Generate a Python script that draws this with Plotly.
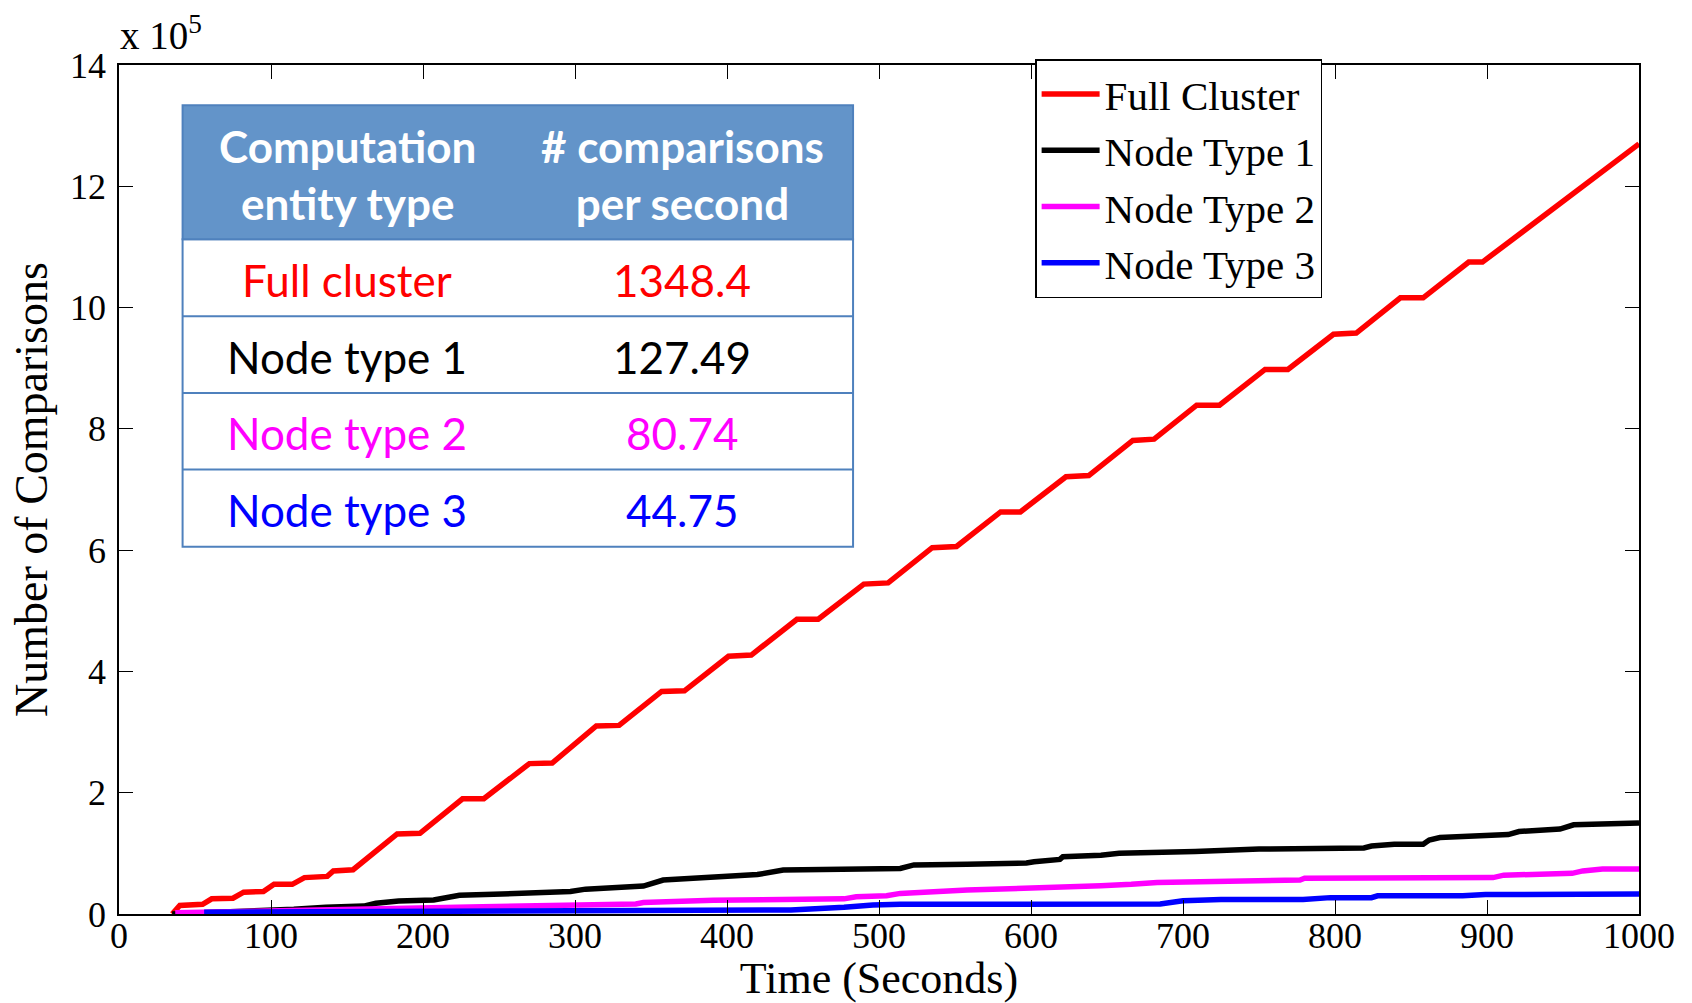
import plotly.graph_objects as go

# ---------------- data (y values in units of 10^5 comparisons) ----------------
series_names = ["Full Cluster", "Node Type 1", "Node Type 2", "Node Type 3"]
series_colors = ["#FF0000", "#000000", "#FF00FF", "#0000FF"]

full_x = [35, 40, 55, 61, 75, 82, 95, 102, 114, 122, 137, 141, 154, 183, 198, 226, 240, 270, 285,
          314, 329, 357, 372, 401, 416, 446, 460, 490, 506, 535, 551, 580, 593, 623, 638, 667, 681,
          709, 724, 754, 769, 799, 814, 843, 858, 888, 897, 1000]
full_y = [0.0, 0.14, 0.16, 0.25, 0.26, 0.36, 0.37, 0.49, 0.49, 0.60, 0.62, 0.71, 0.73, 1.32, 1.33,
          1.90, 1.90, 2.48, 2.49, 3.10, 3.11, 3.67, 3.68, 4.25, 4.27, 4.86, 4.86, 5.44, 5.46, 6.04,
          6.06, 6.63, 6.63, 7.21, 7.23, 7.81, 7.83, 8.39, 8.39, 8.98, 8.98, 9.56, 9.58, 10.16, 10.16,
          10.75, 10.75, 12.70]

node1_x = [35, 100, 115, 136, 161, 169, 184, 207, 224, 252, 297, 307, 345, 358, 382, 420, 437, 514,
           523, 536, 558, 597, 602, 619, 621, 646, 658, 708, 750, 819, 824, 839, 858, 862, 869, 914,
           921, 948, 957, 1000]
node1_y = [0.0, 0.05, 0.077, 0.11, 0.13, 0.176, 0.214, 0.23, 0.31, 0.33, 0.37, 0.41, 0.46, 0.56,
           0.59, 0.65, 0.725, 0.75, 0.81, 0.82, 0.82, 0.84, 0.86, 0.90, 0.945, 0.97, 1.00, 1.03,
           1.07, 1.09, 1.12, 1.15, 1.15, 1.22, 1.26, 1.31, 1.36, 1.40, 1.47, 1.50]

node2_x = [37, 114, 239, 340, 345, 360, 391, 477, 485, 505, 514, 558, 602, 646, 666, 683, 777, 780,
           904, 911, 956, 963, 976, 1000]
node2_y = [0.02, 0.05, 0.12, 0.165, 0.19, 0.20, 0.225, 0.25, 0.285, 0.30, 0.34, 0.395, 0.42, 0.467,
           0.49, 0.52, 0.56, 0.59, 0.60, 0.64, 0.67, 0.71, 0.74, 0.74]

node3_x = [56, 150, 250, 382, 442, 477, 496, 514, 602, 685, 700, 725, 779, 797, 824, 828, 884, 899, 1000]
node3_y = [0.03, 0.035, 0.045, 0.055, 0.066, 0.11, 0.15, 0.16, 0.165, 0.165, 0.22, 0.24, 0.24, 0.27,
           0.27, 0.30, 0.30, 0.32, 0.33]

x_ticks = [0, 100, 200, 300, 400, 500, 600, 700, 800, 900, 1000]
y_ticks = [0, 2, 4, 6, 8, 10, 12, 14]

# inset table
table_header = ["Computation<br>entity type", "# comparisons<br>per second"]
table_entities = ["Full cluster", "Node type 1", "Node type 2", "Node type 3"]
table_rates = ["1348.4", "127.49", "80.74", "44.75"]

# ---------------- layout geometry (pixels) ----------------
W, H = 1692, 1003
L, R, T, B = 118.7, 1639.0, 64.7, 914.0


def px(fx):
    return (fx - L) / (R - L)


def py(fy):
    return (B - fy) / (B - T)


SERIF = "Liberation Serif, Times New Roman, serif"
SANS = "Lato, Calibri, Carlito, sans-serif"

fig = go.Figure()
for xs, ys, name, col in zip([full_x, node1_x, node2_x, node3_x],
                             [full_y, node1_y, node2_y, node3_y],
                             series_names, series_colors):
    fig.add_trace(go.Scatter(x=xs, y=ys, mode="lines", name=name,
                             line=dict(color=col, width=5.5)))

axis_common = dict(showline=True, linecolor="black", linewidth=1.6, mirror="ticks",
                   ticks="inside", ticklen=14, tickwidth=1.2, tickcolor="black",
                   showgrid=False, zeroline=False,
                   tickfont=dict(family=SERIF, size=36, color="black"))

fig.update_layout(
    width=W, height=H,
    margin=dict(l=L, r=W - R, t=T, b=H - B, autoexpand=False),
    paper_bgcolor="white", plot_bgcolor="white",
    showlegend=True,
    legend=dict(x=px(1035), y=py(59), xanchor="left", yanchor="top",
                bgcolor="white", bordercolor="black", borderwidth=1.5,
                font=dict(family=SERIF, size=41, color="black"),
                itemwidth=58, tracegroupgap=0, traceorder="normal"),
    xaxis=dict(range=[0, 1000], tickvals=x_ticks, ticklabelstandoff=-11,
               title=dict(text="Time (Seconds)", font=dict(family=SERIF, size=44, color="black"),
                          standoff=22),
               **axis_common),
    yaxis=dict(range=[0, 14], tickvals=y_ticks, ticklabelstandoff=4,
               title=dict(text="Number of Comparisons",
                          font=dict(family=SERIF, size=46, color="black"), standoff=8),
               **axis_common),
)

# exponent label
fig.add_annotation(text="x 10<sup>5</sup>", xref="paper", yref="paper",
                   x=px(118), y=py(59), xanchor="left", yanchor="bottom", showarrow=False,
                   font=dict(family=SERIF, size=39, color="black"))

# ---------------- inset table ----------------
tx0, tx1 = 182.3, 852.9
ty_top, ty_head = 105.0, 239.0
row_edges = [239.0, 316.0, 392.7, 469.3, 546.7]
col_centers = [347.0, 682.0]
border = "#4F81BD"

fig.add_shape(type="rect", xref="paper", yref="paper", layer="above",
              x0=px(tx0), x1=px(tx1), y0=py(ty_head), y1=py(row_edges[-1]),
              fillcolor="white", line=dict(color=border, width=2))
fig.add_shape(type="rect", xref="paper", yref="paper", layer="above",
              x0=px(tx0), x1=px(tx1), y0=py(ty_top), y1=py(ty_head),
              fillcolor="#6394C9", line=dict(color=border, width=2))
for fy in row_edges[1:-1]:
    fig.add_shape(type="line", xref="paper", yref="paper", layer="above",
                  x0=px(tx0), x1=px(tx1), y0=py(fy), y1=py(fy),
                  line=dict(color=border, width=2))

for cx, txt in zip(col_centers, table_header):
    fig.add_annotation(text="<b>" + txt + "</b>", xref="paper", yref="paper",
                       x=px(cx), y=py((ty_top + ty_head) / 2 + 2), xanchor="center", yanchor="middle",
                       showarrow=False, font=dict(family=SANS, size=44, color="white"))

for i, (ent, rate, col) in enumerate(zip(table_entities, table_rates, series_colors)):
    cy = (row_edges[i] + row_edges[i + 1]) / 2 + 2
    fig.add_annotation(text=ent, xref="paper", yref="paper", x=px(col_centers[0]), y=py(cy),
                       xanchor="center", yanchor="middle", showarrow=False,
                       font=dict(family=SANS, size=44, color=col))
    fig.add_annotation(text=rate, xref="paper", yref="paper", x=px(col_centers[1]), y=py(cy),
                       xanchor="center", yanchor="middle", showarrow=False,
                       font=dict(family=SANS, size=44, color=col))

fig.write_html("out.html")
